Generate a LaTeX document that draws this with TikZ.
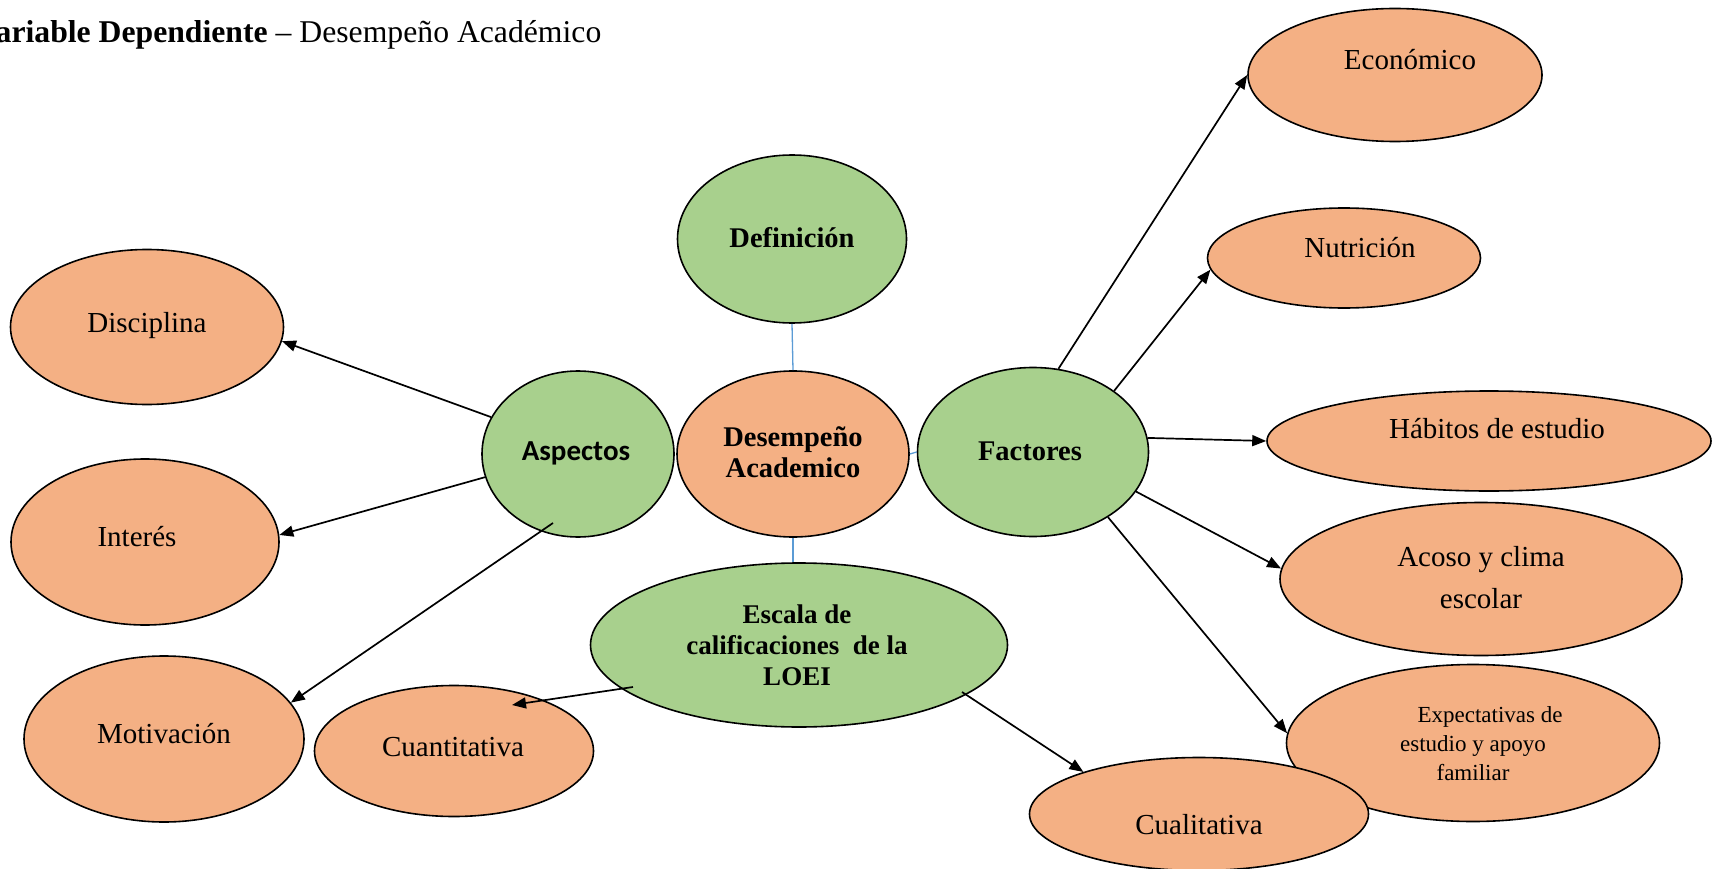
\documentclass[tikz,border=0pt]{standalone}
\usepackage{fontspec}
\setmainfont{Liberation Serif}
\newfontfamily\calib{Carlito}
\usetikzlibrary{arrows.meta,calc,shapes.geometric}
\definecolor{salmon}{HTML}{F4B084}
\definecolor{leaf}{HTML}{A8D08D}
\definecolor{linkblue}{HTML}{5B9BD5}
\begin{document}
\begin{tikzpicture}[x=1pt,y=-1pt,
  oval/.style={ellipse, draw=black, line width=1.6pt, inner sep=0pt},
  orng/.style={oval, fill=salmon},
  grn/.style={oval, fill=leaf},
  lbl/.style={font=\fontsize{29}{34}\selectfont, inner sep=0pt, align=center},
  blbl/.style={font=\fontsize{28.5}{31}\selectfont\bfseries, inner sep=0pt, align=center},
  arr/.style={line width=1.7pt, -{Triangle[length=14pt,width=11pt]}},
  link/.style={line width=1.3pt, draw=linkblue},
]
\useasboundingbox (0,0) rectangle (1713,869);

% title
\node[anchor=base west, inner sep=0pt, font=\fontsize{31.7}{36}\selectfont] (title) at (-24.5,43)
  {\textbf{Variable Dependiente} – Desempeño Académico};

% right side
\node[orng, minimum width=294pt, minimum height=133pt] (eco) at (1395,75) {};
\node[orng, minimum width=273pt, minimum height=100pt] (nut) at (1344,258) {};
\node[orng, minimum width=444pt, minimum height=100pt] (hab) at (1489,441) {};
\node[orng, minimum width=402pt, minimum height=153pt] (aco) at (1481,579) {};
\node[orng, minimum width=373pt, minimum height=157pt] (exq) at (1473,743) {};
\node[orng, minimum width=339pt, minimum height=113pt] (cua) at (1199,814) {};

% center
\node[grn, minimum width=229pt, minimum height=168pt] (def) at (792,239) {};
\node[orng, minimum width=232pt, minimum height=166pt] (des) at (793,454) {};
\node[grn, minimum width=231pt, minimum height=169pt] (fac) at (1033,452) {};
\node[grn, minimum width=192pt, minimum height=166pt] (asp) at (578,454) {};
\node[grn, minimum width=417pt, minimum height=164pt] (esc) at (799,645) {};

% left
\node[orng, minimum width=273pt, minimum height=155pt] (dis) at (147,327) {};
\node[orng, minimum width=268pt, minimum height=166pt] (int) at (145,542) {};
\node[orng, minimum width=280pt, minimum height=166pt] (mot) at (164,739) {};
\node[orng, minimum width=279pt, minimum height=131pt] (cun) at (454,751) {};

% texts
\node[lbl] (t-eco) at (1410,60) {Económico};
\node[lbl] (t-nut) at (1360,248) {Nutrición};
\node[lbl] (t-hab) at (1497,429) {Hábitos de estudio};
\node[lbl, font=\fontsize{29}{42}\selectfont] (t-aco) at (1481,578) {Acoso y clima\\escolar};
\node[lbl, font=\fontsize{23}{29}\selectfont] (t-exq) at (1473,744) {\hspace*{34pt}Expectativas de\\estudio y apoyo\\familiar};
\node[lbl] (t-cua) at (1199,825) {Cualitativa};
\node[lbl] (t-dis) at (147,326) {Disciplina};
\node[lbl] (t-int) at (137,537) {Interés};
\node[lbl] (t-mot) at (164,734) {Motivación};
\node[lbl] (t-cun) at (453,747) {Cuantitativa};
\node[blbl] (t-def) at (792,238) {Definición};
\node[blbl] (t-des) at (793,452) {Desempeño\\Academico};
\node[blbl] (t-fac) at (1030,451) {Factores};
\node[inner sep=0pt, font=\fontsize{29}{34}\selectfont\calib\bfseries] (t-asp) at (576,453) {Aspectos};
\node[blbl, font=\fontsize{27}{31}\selectfont\bfseries] (t-esc) at (797,645) {Escala de\\calificaciones\ \ de la\\LOEI};

% blue links
\draw[link] (def.south) -- (des.north);
\draw[link] (des.east) -- (fac.west);
\draw[link] (des.south) -- (des.south |- esc.north);

% arrows
\draw[arr] (asp.157) -- (dis.-6);
\draw[arr] (asp.194) -- (int.3);
\draw[arr] ($(asp.center)+(-25,69)$) -- (mot.16);
\draw[arr] (fac.73) -- (eco.180);
\draw[arr] (fac.37) -- (nut.185);
\draw[arr] (fac.7) -- (hab.west);
\draw[arr] (fac.-21) -- (aco.177);
\draw[arr] (fac.-41) -- (exq.177);
\draw[arr] ($(esc.center)+(-166,42)$) -- ($(cun.center)+(58,-46)$);
\draw[arr] ($(esc.center)+(163,47)$) -- (cua.160);
\end{tikzpicture}
\end{document}
